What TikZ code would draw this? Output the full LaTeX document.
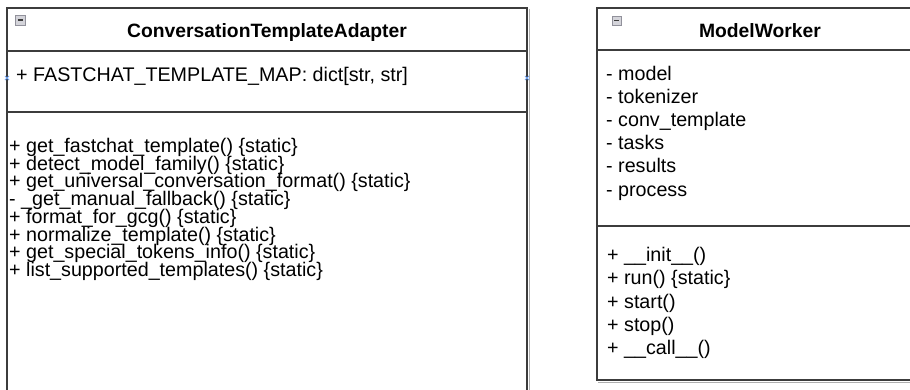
\documentclass[tikz,border=0pt]{standalone}
\usepackage{fontspec}
\setmainfont{Liberation Sans}
\usetikzlibrary{calc}
\definecolor{umlline}{RGB}{60,60,60}
\definecolor{umlshade}{RGB}{175,175,175}
\definecolor{iconfill}{RGB}{212,212,218}
\definecolor{iconedge}{RGB}{145,145,155}
\definecolor{pinblue}{RGB}{110,160,240}
\begin{document}
\begin{tikzpicture}[x=1pt,y=-1pt,
  classbox/.style={draw=umlline, line width=1.8pt, fill=white},
  divider/.style={draw=umlline, line width=1.8pt},
  member/.style={anchor=base west, inner sep=0pt, text height=13.8pt, text depth=3.6pt,
                 font=\fontsize{19.7}{20}\selectfont},
  classname/.style={anchor=base, inner sep=0pt, font=\fontsize{19.3}{20}\selectfont\bfseries},
  foldicon/.style={fill=iconfill, draw=iconedge, line width=0.8pt},
  pin/.style={draw=pinblue, line width=0.8pt}
]
\useasboundingbox (0,0) rectangle (910,389);
\clip (0,0) rectangle (910,389);

% ---------- ConversationTemplateAdapter ----------
\draw[umlshade, line width=1pt] (529,9) -- (529,400);
\draw[classbox] (7,8) rectangle (527,400);
\draw[divider] (7,51) -- (527,51);
\draw[divider] (7,112) -- (527,112);
\draw[foldicon] (15,15) rectangle (25,25);
\draw[umlline, line width=1.6pt] (17.5,20) -- (22.5,20);
\node[classname] (cta) at (267,37) {ConversationTemplateAdapter};

\node[member] (ctaAttr) at (16,81.5) {+ FASTCHAT\_TEMPLATE\_MAP: dict[str, str]};

\node[member] (m1) at (9,152)   {+ get\_fastchat\_template() \{static\}};
\node[member] (m2) at (9,170)   {+ detect\_model\_family() \{static\}};
\node[member] (m3) at (9,187.5) {+ get\_universal\_conversation\_format() \{static\}};
\node[member] (m4) at (9,205.5) {- \_get\_manual\_fallback() \{static\}};
\node[member] (m5) at (9,223)   {+ format\_for\_gcg() \{static\}};
\node[member] (m6) at (9,241)   {+ normalize\_template() \{static\}};
\node[member] (m7) at (9,258.5) {+ get\_special\_tokens\_info() \{static\}};
\node[member] (m8) at (9,276)   {+ list\_supported\_templates() \{static\}};

% connection points on the attribute row
\coordinate (pinL) at (7,78);
\coordinate (pinR) at (527,78);
\draw[pin] ($(pinL)+(-2,-2)$) -- ($(pinL)+(2,2)$) ($(pinL)+(-2,2)$) -- ($(pinL)+(2,-2)$);
\draw[pin] ($(pinR)+(-2,-2)$) -- ($(pinR)+(2,2)$) ($(pinR)+(-2,2)$) -- ($(pinR)+(2,-2)$);

% ---------- ModelWorker ----------
\draw[umlshade, line width=1pt] (598,382) -- (925,382);
\draw[classbox] (597,8) rectangle (925,380);
\draw[divider] (597,50) -- (925,50);
\draw[divider] (597,226) -- (925,226);
\draw[foldicon] (612,16) rectangle (621,25);
\draw[umlline, line width=1.6pt] (614.3,20.5) -- (618.7,20.5);
\node[classname] (mw) at (760,37.5) {ModelWorker};

\node[member] (a1) at (606,80)    {- model};
\node[member] (a2) at (606,103.2) {- tokenizer};
\node[member] (a3) at (606,126.4) {- conv\_template};
\node[member] (a4) at (606,149.6) {- tasks};
\node[member] (a5) at (606,172.8) {- results};
\node[member] (a6) at (606,196)   {- process};

\node[member] (w1) at (607,261.5) {+ \_\_init\_\_()};
\node[member] (w2) at (607,284.8) {+ run() \{static\}};
\node[member] (w3) at (607,308)   {+ start()};
\node[member] (w4) at (607,331.3) {+ stop()};
\node[member] (w5) at (607,354.6) {+ \_\_call\_\_()};
\end{tikzpicture}
\end{document}
